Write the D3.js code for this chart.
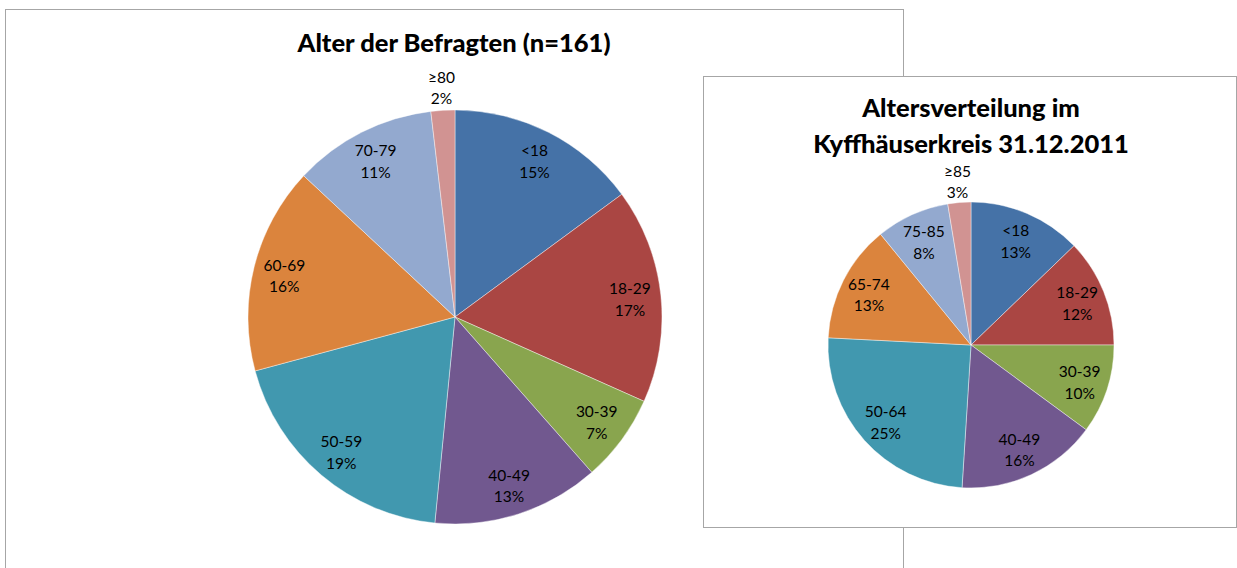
<!DOCTYPE html>
<html>
<head>
<meta charset="utf-8">
<script src="https://cdn.jsdelivr.net/npm/d3@7"></script>
<style>
  body { margin: 0; background: #fff; }
  svg { display: block; font-family: Lato, "Open Sans", sans-serif; }
  .frame { fill: #fff; stroke: #a6a6a6; stroke-width: 1; }
  .title { font-weight: 900; fill: #000; }
  .label { font-size: 15.5px; fill: #000; }
</style>
</head>
<body>
<div class="chart"></div>
<script>
// survey: counts of respondents (n = 161)
const surveyGroups = ["<18", "18-29", "30-39", "40-49", "50-59", "60-69", "70-79", "\u226580"];
const surveyCounts = [24, 27, 11, 21, 31, 26, 18, 3];

// district population share in percent
const districtGroups = ["<18", "18-29", "30-39", "40-49", "50-64", "65-74", "75-85", "\u226585"];
const districtShares = [12.8, 12.2, 10.1, 15.9, 24.8, 13.3, 8.3, 2.6];

const sliceColors = ["#4572A7", "#AA4643", "#89A54E", "#71588F", "#4198AF", "#DB843D", "#93A9CF", "#D19392"];

const width = 1237, height = 568;

const svg = d3
  .select(".chart")
  .append("svg")
  .attr("width", width)
  .attr("height", height);

const pct = d3.format(".0%");

// frames: the first one sits behind the second
svg.append("rect").attr("class", "frame")
  .attr("x", 5.5).attr("y", 9.5).attr("width", 898).attr("height", 620);

const left = svg.append("g");

svg.append("rect").attr("class", "frame")
  .attr("x", 703.5).attr("y", 76.5).attr("width", 533).attr("height", 451);

const right = svg.append("g");

function drawPie(g, cfg) {
  const total = d3.sum(cfg.values);
  const data = cfg.groups.map((k, i) => ({ key: k, value: cfg.values[i] }));

  const pie = d3.pie().sort(null).value((d) => d.value);
  const arcs = pie(data);

  const arc = d3.arc().innerRadius(0).outerRadius(cfg.r);
  const inner = d3.arc().innerRadius(cfg.r * cfg.labelIn).outerRadius(cfg.r * cfg.labelIn);
  const outer = d3.arc().innerRadius(cfg.r + cfg.labelOut).outerRadius(cfg.r + cfg.labelOut);

  const center = g.append("g")
    .attr("transform", "translate(" + cfg.cx + "," + cfg.cy + ")");

  center.selectAll("path")
    .data(arcs)
    .enter()
    .append("path")
    .attr("d", arc)
    .style("fill", (d, i) => sliceColors[i])
    .style("stroke", "#fff")
    .style("stroke-width", 0.6)
    .style("stroke-opacity", 0.7);

  const lab = center.selectAll("text")
    .data(arcs)
    .enter()
    .append("text")
    .attr("class", "label")
    .attr("text-anchor", "middle")
    .attr("transform", (d) => {
      const share = d.value / total;
      const p = share < 0.04 ? outer.centroid(d) : inner.centroid(d);
      return "translate(" + p[0] + "," + p[1] + ")";
    });

  lab.append("tspan").attr("x", 0).attr("dy", "-0.25em").text((d) => d.data.key);
  lab.append("tspan").attr("x", 0).attr("dy", "1.4em").text((d) => pct(d.value / total));

  const t = g.append("text")
    .attr("class", "title")
    .attr("text-anchor", "middle")
    .style("font-size", cfg.titleSize + "px");
  cfg.title.forEach((line, i) => {
    t.append("tspan")
      .attr("x", cfg.titleX)
      .attr("y", cfg.titleY + i * cfg.titleLead)
      .text(line);
  });
}

drawPie(left, {
  groups: surveyGroups, values: surveyCounts,
  cx: 455, cy: 317, r: 207, labelIn: 0.85, labelOut: 24,
  title: ["Alter der Befragten (n=161)"],
  titleX: 454, titleY: 52, titleLead: 0, titleSize: 25.5
});

drawPie(right, {
  groups: districtGroups, values: districtShares,
  cx: 971, cy: 345, r: 143, labelIn: 0.8, labelOut: 22,
  title: ["Altersverteilung im", "Kyffh\u00e4userkreis 31.12.2011"],
  titleX: 971, titleY: 117, titleLead: 36, titleSize: 25.5
});
</script>
</body>
</html>
